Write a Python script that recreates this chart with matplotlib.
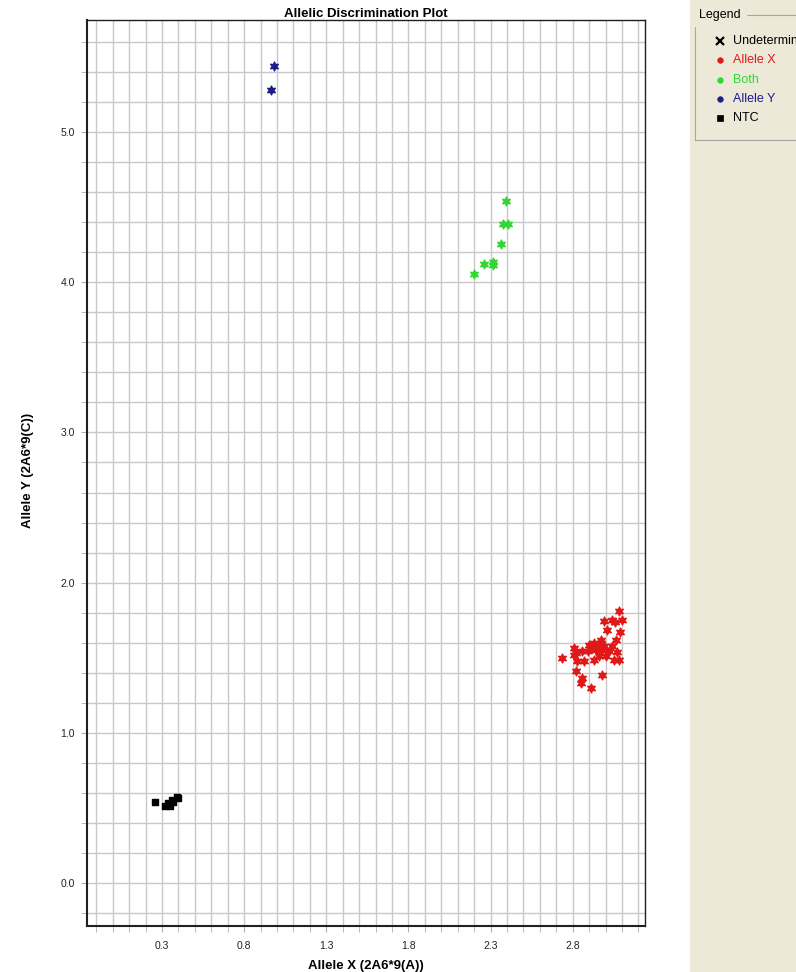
import matplotlib.pyplot as plt
from matplotlib.patches import Rectangle
from matplotlib.ticker import MultipleLocator

# genotype calls (Allele X signal, Allele Y signal)
allele_x_x = [3.082, 3.103, 2.991, 3.042, 3.056, 3.011, 3.087, 3.062, 2.971, 2.930,
              2.910, 2.951, 2.981, 2.890, 3.042, 3.021, 3.072, 2.808, 2.859, 2.808,
              2.737, 2.829, 2.869, 2.930, 2.960, 3.001, 3.052, 3.082, 2.818, 2.859,
              2.849, 2.981, 2.910, 2.961, 2.940, 2.991, 2.899, 2.818, 2.975, 2.950]
allele_x_y = [1.813, 1.749, 1.742, 1.753, 1.738, 1.687, 1.669, 1.620, 1.620, 1.598,
              1.564, 1.587, 1.553, 1.542, 1.576, 1.542, 1.535, 1.564, 1.542, 1.520,
              1.498, 1.475, 1.475, 1.487, 1.509, 1.509, 1.487, 1.487, 1.409, 1.364,
              1.331, 1.387, 1.298, 1.576, 1.553, 1.576, 1.587, 1.531, 1.600, 1.560]

both_x = [2.396, 2.373, 2.408, 2.361, 2.316, 2.316, 2.259, 2.198]
both_y = [4.542, 4.387, 4.387, 4.253, 4.138, 4.113, 4.125, 4.058]

allele_y_x = [0.965, 0.983]
allele_y_y = [5.28, 5.44]

ntc_x = [0.257, 0.390, 0.359, 0.338, 0.318, 0.349, 0.369, 0.400]
ntc_y = [0.542, 0.575, 0.553, 0.531, 0.509, 0.509, 0.542, 0.564]

legend_items = ["Undetermined", "Allele X", "Both", "Allele Y", "NTC"]
legend_colors = ["#000000", "#e01818", "#33d633", "#1c1c8a", "#000000"]

plt.rcParams['font.family'] = ['Liberation Sans', 'DejaVu Sans']

fig = plt.figure(figsize=(7.96, 9.72), dpi=100)
fig.patch.set_facecolor('white')

# side panel holding the legend
fig.patches.append(Rectangle((690/796, 0), 106/796, 1, transform=fig.transFigure,
                             facecolor='#ece9d8', edgecolor='none', zorder=0))
fig.patches.append(Rectangle((695/796, 1 - 140/972), 110/796, 125/972, transform=fig.transFigure,
                             facecolor='none', edgecolor='#a8a6a0', lw=0.8, zorder=1))
fig.text(699/796, 1 - 15/972, "Legend", fontsize=9, va='center', ha='left',
         backgroundcolor='#ece9d8', zorder=2)

ax = fig.add_axes([87/796, 46/972, 558/796, 906/972])

star = (6, 1, 0)
ax.scatter(allele_x_x, allele_x_y, marker=star, s=40, color=legend_colors[1], zorder=3)
ax.scatter(both_x, both_y, marker=star, s=40, color=legend_colors[2], zorder=3)
ax.scatter(allele_y_x, allele_y_y, marker=star, s=40, color=legend_colors[3], zorder=3)
ax.scatter(ntc_x, ntc_y, marker='s', s=22, color=legend_colors[4], zorder=3)

ax.set_xlim(-0.157, 3.24)
ax.set_ylim(-0.287, 5.747)

ax.set_xticks([0.3, 0.8, 1.3, 1.8, 2.3, 2.8])
ax.set_xticklabels(["0.3", "0.8", "1.3", "1.8", "2.3", "2.8"])
ax.set_yticks([0.0, 1.0, 2.0, 3.0, 4.0, 5.0])
ax.set_yticklabels(["0.0", "1.0", "2.0", "3.0", "4.0", "5.0"])
ax.xaxis.set_minor_locator(MultipleLocator(0.1))
ax.yaxis.set_minor_locator(MultipleLocator(0.2))
ax.grid(True, which='both', color='#c8c8c8', lw=1.0, zorder=0)
ax.set_axisbelow(True)
ax.tick_params(which='both', length=4, color='#b0b0b0', labelsize=7.5, labelcolor='#222222')
ax.tick_params(axis='x', pad=6.5)
ax.tick_params(axis='y', pad=4.6)

for s in ax.spines.values():
    s.set_color('#202020')
    s.set_linewidth(1.0)
ax.spines['left'].set_linewidth(1.5)
ax.spines['bottom'].set_linewidth(1.5)

ax.set_title("Allelic Discrimination Plot", fontsize=9.5, fontweight='bold', pad=1.5)
ax.set_xlabel("Allele X (2A6*9(A))", fontsize=9.5, fontweight='bold')
ax.set_ylabel("Allele Y (2A6*9(C))", fontsize=9.5, fontweight='bold')
ax.xaxis.set_label_coords(0.5, -0.0375)
ax.yaxis.set_label_coords(-0.095, 0.503)

# legend entries
rows = [41, 60, 80, 99, 118]
markers = ['x', 'o', 'o', 'o', 's']
for name, col, mk, yy in zip(legend_items, legend_colors, markers, rows):
    fy = 1 - yy/972
    fig.lines.append(plt.Line2D([720/796], [fy], transform=fig.transFigure, marker=mk,
                                color=col, markersize=6 if mk == 'x' else 4,
                                markeredgewidth=1.6 if mk == 'x' else 0.5, ls='none'))
    fig.text(733/796, fy, name, color=col, fontsize=9, va='center', ha='left')

fig.savefig("out.png", dpi=100)
